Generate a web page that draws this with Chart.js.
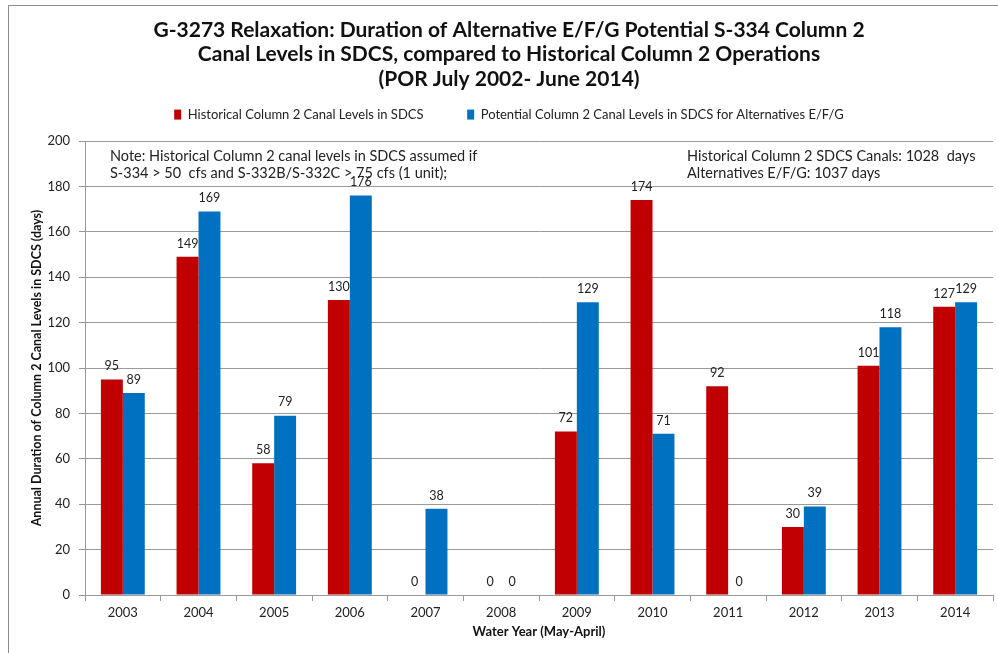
<!DOCTYPE html>
<html lang="en">
<head>
   <meta charset="UTF-8">
   <title>G-3273 Relaxation</title>
   <style>
      body { margin: 0; background: #fff; }
      #wrap { width: 998px; height: 653px; }
   </style>
</head>
<body>
   <div id="wrap"><canvas id="myChart"></canvas></div>

   <script src="https://cdn.jsdelivr.net/npm/chart.js"></script>
   <script>
      const years = ['2003', '2004', '2005', '2006', '2007', '2008', '2009', '2010', '2011', '2012', '2013', '2014'];
      const historical = [95, 149, 58, 130, 0, 0, 72, 174, 92, 30, 101, 127];
      const potential = [89, 169, 79, 176, 38, 0, 129, 71, 0, 39, 118, 129];
      const yTicks = [0, 20, 40, 60, 80, 100, 120, 140, 160, 180, 200];

      const FONT = 'Lato, "Open Sans", sans-serif';

      // white background + grey frame, extra room under the legend
      const framePlugin = {
         id: 'frame',
         beforeLayout(chart) {
            const lg = chart.legend;
            if (lg && !lg._padded) {
               const fit = lg.fit.bind(lg);
               lg.fit = function () { fit(); this.height += 10; };
               lg._padded = true;
            }
         },
         beforeDraw(chart) {
            const c = chart.ctx;
            c.save();
            c.fillStyle = '#fff';
            c.fillRect(0, 0, chart.width, chart.height);
            c.strokeStyle = '#8c8c8c';
            c.lineWidth = 1;
            c.strokeRect(8.5, 5.5, chart.width + 20, chart.height + 20);
            c.restore();
         }
      };

      // value labels above bars and the two notes
      const labelPlugin = {
         id: 'labels',
         afterDatasetsDraw(chart) {
            const c = chart.ctx;
            const area = chart.chartArea;
            c.save();
            c.font = '12.5px ' + FONT;
            c.fillStyle = '#222';
            c.textAlign = 'center';
            c.textBaseline = 'bottom';
            chart.data.datasets.forEach((ds, i) => {
               chart.getDatasetMeta(i).data.forEach((bar, j) => {
                  c.fillText(ds.data[j], bar.x, bar.y - 7);
               });
            });

            c.font = '14.5px ' + FONT;
            c.textAlign = 'left';
            c.textBaseline = 'middle';
            c.fillText('Note: Historical Column 2 canal levels in SDCS assumed if', area.left + 25, area.top + 15);
            c.fillText('S-334 > 50  cfs and S-332B/S-332C > 75 cfs (1 unit);', area.left + 25, area.top + 32);
            c.fillText('Historical Column 2 SDCS Canals: 1028  days', area.left + 602, area.top + 15);
            c.fillText('Alternatives E/F/G: 1037 days', area.left + 602, area.top + 32);
            c.restore();
         }
      };

      const ctx = document.getElementById('myChart').getContext('2d');

      const myChart = new Chart(ctx, {
         type: 'bar',
         data: {
            labels: years,
            datasets: [{
               label: 'Historical Column 2 Canal Levels in SDCS',
               data: historical,
               backgroundColor: '#C00000',
               borderWidth: 0
            }, {
               label: 'Potential Column 2 Canal Levels in SDCS for Alternatives E/F/G',
               data: potential,
               backgroundColor: '#0070C0',
               borderWidth: 0
            }]
         },
         options: {
            responsive: true,
            maintainAspectRatio: false,
            animation: false,
            layout: {
               padding: { left: 25, right: 5, top: 12, bottom: 9 }
            },
            datasets: {
               bar: {
                  barPercentage: 1.0,
                  categoryPercentage: 0.58
               }
            },
            scales: {
               x: {
                  afterFit(axis) { axis.height = 49; },
                  grid: {
                     display: true,
                     drawOnChartArea: false,
                     color: '#999',
                     tickLength: 6
                  },
                  border: { color: '#999' },
                  ticks: {
                     font: { family: FONT, size: 13 },
                     color: '#222',
                     padding: 4
                  },
                  title: {
                     display: true,
                     text: 'Water Year (May-April)',
                     font: { family: FONT, size: 13, weight: 'bold' },
                     color: '#111',
                     padding: { top: 4, bottom: 4 }
                  }
               },
               y: {
                  min: 0,
                  max: 200,
                  afterBuildTicks(axis) {
                     axis.ticks = yTicks.map(v => ({ value: v }));
                  },
                  afterFit(axis) { axis.width = 60; },
                  grid: {
                     color: '#999',
                     tickLength: 6
                  },
                  border: { color: '#999' },
                  ticks: {
                     font: { family: FONT, size: 13 },
                     color: '#222',
                     padding: 9
                  },
                  title: {
                     display: true,
                     text: 'Annual Duration of Column 2 Canal Levels in SDCS (days)',
                     font: { family: FONT, size: 12.5, weight: 'bold' },
                     color: '#111',
                     padding: { top: 4, bottom: 4 }
                  }
               }
            },
            plugins: {
               title: {
                  display: true,
                  text: [
                     'G-3273 Relaxation: Duration of Alternative E/F/G Potential S-334 Column 2',
                     'Canal Levels in SDCS, compared to Historical Column 2 Operations',
                     '(POR July 2002- June 2014)'
                  ],
                  font: { family: FONT, size: 21, weight: 'bold', lineHeight: 1.16 },
                  color: '#111',
                  padding: { top: 6, bottom: 0 }
               },
               legend: {
                  position: 'top',
                  labels: {
                     boxWidth: 7,
                     boxHeight: 10,
                     padding: 17,
                     font: { family: FONT, size: 13 },
                     color: '#222',
                     generateLabels(chart) {
                        const items = Chart.defaults.plugins.legend.labels.generateLabels(chart);
                        // wider gap after the first entry, like the original
                        items[0].text = items[0].text + '\u00a0\u00a0\u00a0\u00a0\u00a0\u00a0\u00a0\u00a0';
                        return items;
                     }
                  }
               },
               tooltip: { enabled: false }
            }
         },
         plugins: [framePlugin, labelPlugin]
      });
   </script>
</body>
</html>
